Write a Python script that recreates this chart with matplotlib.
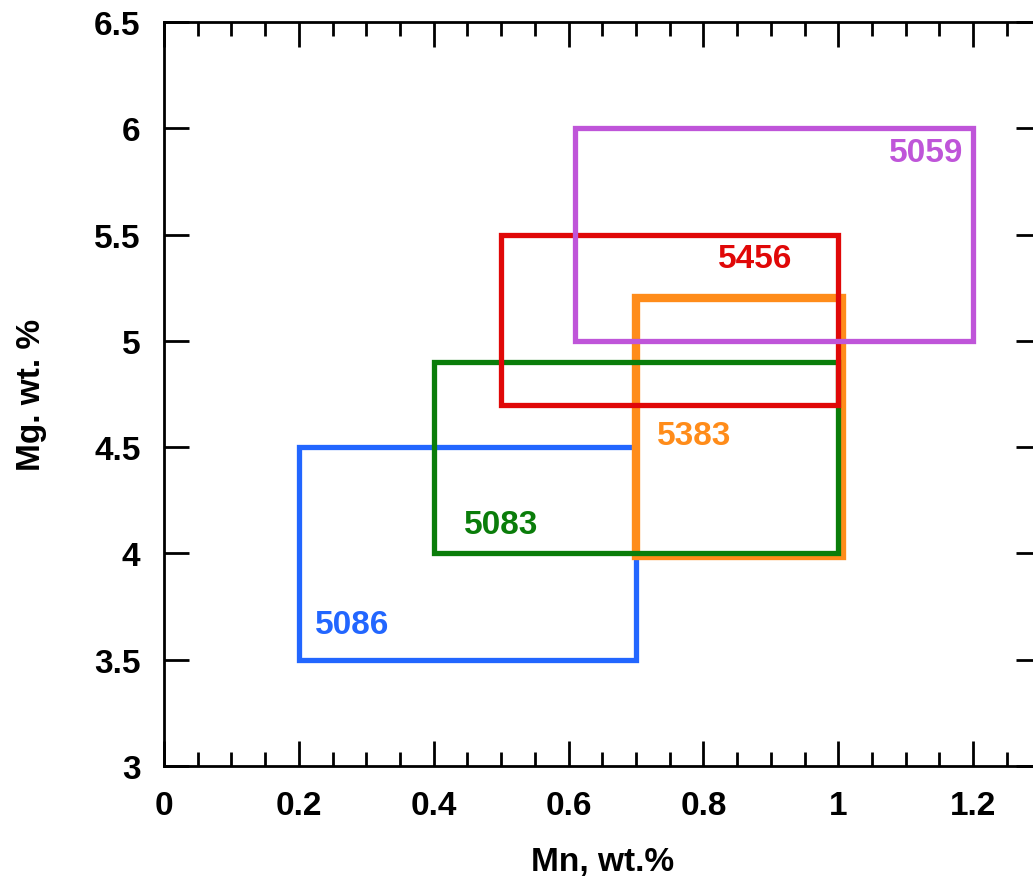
import matplotlib
matplotlib.use('Agg')
import matplotlib.pyplot as plt
from matplotlib.patches import Rectangle
from matplotlib.ticker import MultipleLocator

plt.rcParams['font.family'] = ['Liberation Sans', 'DejaVu Sans']
plt.rcParams['font.weight'] = 'bold'

# alloy composition windows (Mn and Mg ranges, wt.%)
alloys = ['5086', '5083', '5383', '5456', '5059']
mn_min = [0.2, 0.4, 0.7, 0.5, 0.61]
mn_max = [0.7, 1.0, 1.005, 1.0, 1.2]
mg_min = [3.5, 4.0, 3.99, 4.7, 5.0]
mg_max = [4.5, 4.9, 5.2, 5.5, 6.0]
colors = ['#2266ff', '#0a7d0a', '#ff8c1a', '#e00808', '#bf55d9']
widths = [3.8, 3.8, 6.0, 3.8, 3.8]

# label positions
label_x = [0.279, 0.50, 0.786, 0.876, 1.13]
label_y = [3.667, 4.138, 4.556, 5.389, 5.884]

fig = plt.figure(figsize=(10.33, 8.78), dpi=100)
ax = fig.add_axes([164 / 1033, 111 / 878, 876.5 / 1033, 744 / 878])

# blue first, then orange, the rest on top
order = [0, 2, 1, 3, 4]
for i in order:
    rect = Rectangle((mn_min[i], mg_min[i]), mn_max[i] - mn_min[i], mg_max[i] - mg_min[i],
                     fill=False, edgecolor=colors[i], linewidth=widths[i], joinstyle='miter')
    ax.add_patch(rect)
    ax.text(label_x[i], label_y[i], alloys[i], color=colors[i], fontsize=24,
            fontweight='bold', ha='center', va='center')

ax.set_xlim(0, 1.3)
ax.set_ylim(3, 6.5)
ax.xaxis.set_minor_locator(MultipleLocator(0.05))
ax.set_xticks([0, 0.2, 0.4, 0.6, 0.8, 1.0, 1.2])
ax.set_xticklabels(['0', '0.2', '0.4', '0.6', '0.8', '1', '1.2'])
ax.set_yticks([3, 3.5, 4, 4.5, 5, 5.5, 6, 6.5])
ax.set_yticklabels(['3', '3.5', '4', '4.5', '5', '5.5', '6', '6.5'])

ax.tick_params(which='major', direction='in', length=18, width=2, labelsize=24, pad=17,
               top=True, right=True)
ax.tick_params(which='minor', direction='in', length=10, width=2, top=True)
ax.tick_params(axis='y', which='minor', left=False, right=False)
for s in ax.spines.values():
    s.set_linewidth(2)

ax.set_xlabel('Mn, wt.%', fontsize=24, fontweight='bold', labelpad=18)
ax.set_ylabel('Mg. wt. %', fontsize=24, fontweight='bold', labelpad=34)

fig.savefig('out.png', dpi=100)
